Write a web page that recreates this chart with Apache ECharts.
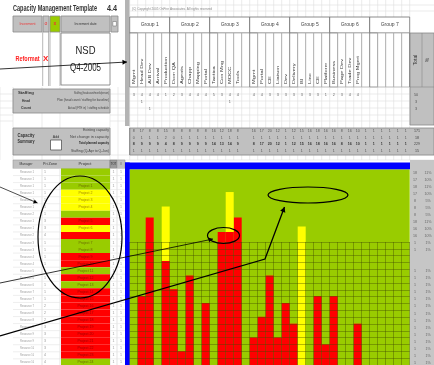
<!DOCTYPE html>
<html>
<head>
<meta charset="utf-8">
<script src="https://cdn.jsdelivr.net/npm/echarts@6/dist/echarts.min.js"></script>
<style>
html, body { margin: 0; padding: 0; background: #fff; }
#c { width: 434px; height: 365px; }
</style>
</head>
<body>
<div id="c"></div>
<script>
// ---- Capacity template content ----
const groups = ['Group 1', 'Group 2', 'Group 3', 'Group 4', 'Group 5', 'Group 6', 'Group 7'];
const columns = [
  'Mgmt', 'Head Dev', 'A/B Dev', 'Arrival', 'Production',
  'Dom QA', 'Agents', 'Chapp', 'Mapping', 'Portal',
  'Tactica', 'Con Mng', 'MOCC', 'Tools', '',
  'Mgmt', 'Portal', 'CE', 'Liaison', 'Dev',
  'Delivery', 'BI', 'Lino', 'CE', 'Platform',
  'Business', 'Page Dev', 'Trade Dev', 'Prog Mgmt', '',
  '', '', '', '', ''
];
// Committed load per resource column (hours band units)
const committed = [0, 10, 21.4, 0, 15.1, 11, 2, 13, 0, 9, 0, 19.3, 19.3, 21.4, 0, 4, 7, 13, 4, 9, 6, 0, 0, 10, 3, 10, 0, 0, 6, 0, 0, 0, 0, 0, 0];
// Tentative load stacked on top of committed
const tentative = [0, 0, 0, 0, 7.9, 0, 0, 0, 0, 0, 0, 0, 5.8, 0, 0, 0, 0, 0, 0, 0, 0, 20.1, 0, 0, 0, 0, 0, 0, 0, 0, 0, 0, 0, 0, 0];

const staffHead   = ['3','4','4','4','1','2','3','4','4','4','5','3','4','4','','4','4','3','3','3','3','3','3','3','1','2','3','4','4','','','','','',''];
const staffPlan   = ['','1','','','','','','','','','','','1','','','','','','','','','','','','','','','','','','','','','',''];
const staffActual = ['','','1','','','','','','','','','','','','','','','','','','','','','','','','','','','','','','','',''];
const staffTotals = ['50', '3', '3'];

const capExisting = ['8','17','8','8','15','8','8','8','8','8','16','12','18','8','','16','17','20','12','1','12','15','16','18','16','16','8','16','10','1','1','1','1','1','1'];
const capChange   = ['0','1','1','1','2','0','1','1','1','1','1','1','1','1','','1','1','1','1','1','1','1','1','1','1','1','1','1','1','1','1','1','1','1','1'];
const capTotal    = ['8','9','9','9','4','8','9','9','9','9','14','13','14','9','','8','17','20','12','1','12','15','16','18','16','16','8','16','10','1','1','1','1','1','1'];
const capStaff    = ['1','1','1','1','1','1','1','1','1','1','1','1','1','1','','1','1','1','1','1','1','1','1','1','1','1','1','1','1','1','1','1','1','1','1'];
const capTotals   = ['171', '18', '229', '15'];

const managers = ['Resource 1','Resource 1','Resource 1','Resource 1','Resource 1','Resource 1','Resource 2','Resource 1','Resource 1','Resource 2',
  'Resource 3','Resource 3','Resource 4','Resource 4','Resource 5','Resource 6','Resource 6','Resource 7','Resource 7','Resource 7',
  'Resource 8','Resource 8','Resource 9','Resource 9','Resource 9','Resource 10','Resource 10','Resource 10'];
const priZone = ['1','1','1','1','1','1','1','3','3','4','1','1','1','1','1','1','1','1','1','2','2','2','3','3','3','3','4','4'];
const projStatus = ['g','g','g','y','y','y','g','r','y','r','g','g','r','r','g','r','g','r','r','r','r','r','r','r','r','r','r','g'];
const projects = ['','','Project 1','Project 2','Project 3','Project 4','','Project 5','Project 6','','Project 7','Project 8','Project 9','Project 10',
  'Project 11','Project 12','Project 13','Project 14','Project 15','Project 16','Project 17','Project 18','Project 19','Project 20',
  'Project 21','Project 22','Project 23','Project 24'];
const rowHours = ['18','17','18','17','8','8','8','18','16','16','1','1','','','1','1','1','1','1','1','1','1','1','1','1','1','1','1'];
const rowShare = ['11%','10%','11%','10%','5%','5%','5%','11%','10%','10%','1%','1%','','','1%','1%','1%','1%','1%','1%','1%','1%','1%','1%','1%','1%','1%','1%'];

// ---- layout constants ----
const X0 = 129.7, CW = 8, NC = columns.length;
const RED = '#ff0000', GREEN = '#99cc00', YELLOW = '#ffff00', BLUE = '#0000ff', GRAY = '#c0c0c0';
const statusColor = { g: GREEN, y: YELLOW, r: RED };

const mctx = document.createElement('canvas').getContext('2d');
const g = [];
function rect(x, y, w, h, fill, stroke, lw, z) {
  g.push({ type: 'rect', silent: true, z: z || 1, shape: { x, y, width: w, height: h },
    style: { fill: fill || 'none', stroke: stroke || null, lineWidth: lw || 1 } });
}
function line(x1, y1, x2, y2, stroke, lw, z) {
  g.push({ type: 'line', silent: true, z: z || 1, shape: { x1, y1, x2, y2 },
    style: { stroke, lineWidth: lw || 1 } });
}
function txt(s, x, y, o) {
  if (!s) return;
  o = o || {};
  const size = o.size || 5, weight = o.weight || 'normal';
  const font = weight + ' ' + size + 'px "Liberation Sans", Arial, sans-serif';
  let sx = o.sx || 1;
  if (o.w) { mctx.font = font; sx = o.w / mctx.measureText(s).width; }
  const al = o.align || 'center';
  g.push({ type: 'text', silent: true, x, y, rotation: o.rot || 0, scaleX: sx, scaleY: o.sy || 1, z: o.z || 5,
    style: { text: s, x: 0, y: 0, font, fill: o.color || '#333',
      align: al, verticalAlign: 'middle', textAlign: al, textVerticalAlign: 'middle' } });
}
function arrow(pts, lw, head, z) {
  g.push({ type: 'polyline', silent: true, z: z || 100, shape: { points: pts },
    style: { stroke: '#000', lineWidth: lw, fill: 'none' } });
  const [xa, ya] = pts[pts.length - 2], [xb, yb] = pts[pts.length - 1];
  const a = Math.atan2(yb - ya, xb - xa), hl = head, hw = head * 0.55;
  const p1 = [xb - hl * Math.cos(a) + hw * Math.sin(a), yb - hl * Math.sin(a) - hw * Math.cos(a)];
  const p2 = [xb - hl * Math.cos(a) - hw * Math.sin(a), yb - hl * Math.sin(a) + hw * Math.cos(a)];
  g.push({ type: 'polygon', silent: true, z: z || 100, shape: { points: [[xb, yb], p1, p2] }, style: { fill: '#000' } });
}
function ellipse(cx, cy, rx, ry, lw) {
  g.push({ type: 'ellipse', silent: true, z: 100, shape: { cx, cy, rx, ry },
    style: { fill: 'none', stroke: '#000', lineWidth: lw } });
}
const colX = k => X0 + k * CW;
const colMid = k => X0 + k * CW + CW / 2;

// ---- faint sheet grid ----
const FAINT = '#dedede';
for (let k = 0; k <= NC; k++) line(colX(k), 0, colX(k), 17, FAINT, 0.6);
[5, 11].forEach(y => line(X0, y, 434, y, FAINT, 0.6));
for (let k = 0; k <= NC; k++) line(colX(k), 87, colX(k), 160, FAINT, 0.6);
[94, 101, 108, 115, 121, 155, 160].forEach(y => line(110, y, 434, y, FAINT, 0.6));
[0, 13, 42, 60, 110, 118].forEach(x => line(x, 87, x, 160, FAINT, 0.6));
[94, 101, 108, 115, 121].forEach(y => line(0, y, 13, y, FAINT, 0.6));

// ---- title row ----
txt('Capacity Management Template', 13, 9, { size: 8.5, weight: 'bold', align: 'left', w: 84, color: '#333' });
txt('4.4', 107, 9, { size: 8.5, weight: 'bold', align: 'left', w: 10, color: '#333' });
txt('(C) Copyright 2005 OnFire Associates. All rights reserved', 132, 9, { size: 3.6, align: 'left', w: 80, color: '#888' });

// ---- control cells ----
rect(13, 16, 29, 16, GRAY, '#8a8a8a', 0.8);
txt('Increment', 27.5, 24, { size: 4, color: '#e33', w: 16 });
rect(43, 16, 6, 16, GRAY, '#8a8a8a', 0.8);
txt('o', 46, 24, { size: 5, color: '#e33' });
rect(50, 16, 10, 16, GREEN, '#8a8a8a', 0.8);
txt('x', 55, 24, { size: 5, color: '#e33', weight: 'bold' });
rect(61, 16, 49, 16, GRAY, '#8a8a8a', 0.8);
txt('Increment date', 85.5, 24, { size: 4, color: '#333', w: 22 });
rect(111, 16, 7, 16, GRAY, '#8a8a8a', 0.8);
rect(112.8, 21.5, 3.6, 4.5, '#fff', '#777', 0.6);

[42.7, 48.6, 50, 60].forEach(x => line(x, 32, x, 86, '#9a9a9a', 0.7));
txt('Reformat', 27.5, 58.5, { size: 8, weight: 'bold', color: '#ff2020', w: 24 });
txt('X', 45.7, 58.5, { size: 8, weight: 'bold', color: '#ff2020' });
rect(61, 33, 49, 52, '#fff', '#7a7a7a', 0.8);
txt('NSD', 85.5, 51, { size: 10.5, color: '#222', w: 20 });
txt('Q4-2005', 85.5, 68, { size: 10, color: '#222', w: 31 });

// vertical separator bar
rect(125, 0, 4.5, 126, '#b4b4b4', null, 0);

// ---- group header ----
groups.forEach((name, i) => {
  rect(colX(i * 5), 17, 40, 16, '#fff', '#6e6e6e', 0.8);
  txt(name, colX(i * 5) + 20, 25, { size: 5, color: '#444' });
});
for (let k = 0; k < NC; k++) {
  rect(colX(k), 33, CW, 54, '#fff', k % 5 === 0 ? '#6e6e6e' : '#a0a0a0', 0.7);
  txt(columns[k], colMid(k), 84, { size: 4.4, align: 'left', rot: Math.PI / 2, sx: 1.3, sy: 0.85, color: '#333' });
}
line(colX(NC), 33, colX(NC), 87, '#6e6e6e', 0.8);

// Total / % block
rect(410, 33, 24, 92, GRAY, '#888', 0.8);
line(422, 33, 422, 87, '#888', 0.6);
line(410, 87, 434, 87, '#888', 0.6);
txt('Total', 416, 60, { size: 5, rot: Math.PI / 2, color: '#333' });
txt('%', 428, 60, { size: 5, rot: Math.PI / 2, color: '#333' });
staffTotals.forEach((v, i) => txt(v, 416, 95 + i * 7, { size: 3.8, color: '#555' }));

// ---- staffing block ----
rect(13, 89, 97, 24, GRAY, '#888', 0.8);
['Staffing', 'Head', 'Count'].forEach((s, i) => txt(s, 26, 93 + i * 7.5, { size: 4.2, weight: 'bold', color: '#333', w: s.length * 2 }));
txt('Staffing (headcount/month/person)', 109, 93, { size: 3.4, align: 'right', color: '#444', w: 35 });
txt('Plan (head count / staffing for baseline)', 109, 100.5, { size: 3.4, align: 'right', color: '#444', w: 52 });
txt('Actual (FTE in) / staffing schedule', 109, 108, { size: 3.4, align: 'right', color: '#444', w: 41 });
for (let k = 0; k < NC; k++) {
  txt(staffHead[k], colMid(k), 95, { size: 3.8, color: '#666' });
  txt(staffPlan[k], colMid(k), 102, { size: 3.8, color: '#666' });
  txt(staffActual[k], colMid(k), 109, { size: 3.8, color: '#666' });
}

// ---- capacity summary ----
rect(13, 128, 97, 27, GRAY, '#888', 0.8);
rect(X0, 128, 434 - X0, 27, GRAY, '#888', 0.8);
txt('Capacity', 26, 135.5, { size: 4.5, weight: 'bold', color: '#333', w: 17 });
txt('Summary', 26, 141.5, { size: 4.5, weight: 'bold', color: '#333', w: 17 });
txt('Add', 56, 137, { size: 3.6, color: '#333' });
rect(50.5, 140, 11, 10, '#fff', '#555', 0.8);
txt('Existing capacity', 109, 130.5, { size: 3.4, align: 'right', color: '#444', w: 26 });
txt('Net change in capacity', 109, 137, { size: 3.4, align: 'right', color: '#444', w: 39 });
txt('Total planned capacity', 109, 143.5, { size: 3.4, weight: 'bold', align: 'right', color: '#222', w: 30 });
txt('Staffing (Q-Apr to Q-Jun)', 109, 151, { size: 3.4, align: 'right', color: '#444', w: 38 });
line(X0, 128, X0, 155, '#888', 0.8);
for (let k = 0; k < NC; k++) {
  txt(capExisting[k], colMid(k), 131, { size: 3.6, color: '#555' });
  txt(capChange[k], colMid(k), 137.5, { size: 3.6, color: '#555' });
  txt(capTotal[k], colMid(k), 144, { size: 3.6, color: '#333', weight: 'bold' });
  txt(capStaff[k], colMid(k), 151, { size: 3.6, color: '#555' });
}
capTotals.forEach((v, i) => txt(v, 417, 131 + i * 6.6, { size: 3.6, color: '#444' }));

// ---- project table ----
const RY0 = 168.5, RH = 7.05;
rect(13, 160, 97, 8.5, GRAY, '#999', 0.6);
rect(110, 160, 7, 8.5, '#9a9a9a', '#777', 0.6);
rect(117, 160, 8, 8.5, GRAY, '#999', 0.6);
txt('Manager', 26, 164.3, { size: 4, color: '#333', w: 13 });
txt('Pri Zone', 50, 164.3, { size: 4, color: '#333', w: 14 });
txt('Project', 85, 164.3, { size: 4, color: '#333', w: 13 });
txt('TOT', 113.5, 164.3, { size: 3.4, color: '#222', w: 5.5 });
txt('#', 121, 164.3, { size: 3.6, color: '#333' });
[42, 60, 110, 117].forEach(x => line(x, 168.5, x, 365, '#d2d2d2', 0.6));
managers.forEach((m, i) => {
  const y = RY0 + i * RH;
  line(13, y, 61, y, '#e2e2e2', 0.6);
  line(110, y, 125, y, '#e2e2e2', 0.6);
  rect(61, y, 49, RH, statusColor[projStatus[i]], null, 0, 2);
  txt(m, 34, y + RH / 2, { size: 3.6, align: 'right', color: '#9a9a9a', w: 14 });
  txt(priZone[i], 45, y + RH / 2, { size: 3.6, color: '#9a9a9a' });
  txt(projects[i], 85.5, y + RH / 2, { size: 3.6, color: 'rgba(60,0,0,0.5)', z: 6 });
  txt('1', 113.5, y + RH / 2, { size: 3.6, color: '#9a9a9a' });
  txt('1', 121, y + RH / 2, { size: 3.6, color: '#9a9a9a' });
});

// right-hand totals column
rect(410, 160, 24, 205, '#c6c6c6', null, 0);
managers.forEach((m, i) => {
  const y = RY0 + 4 + i * RH;
  txt(rowHours[i], 415, y, { size: 3.6, color: '#666' });
  txt(rowShare[i], 428, y, { size: 3.6, color: '#666' });
});

// blue frame around the load chart
rect(125, 162.5, 285, 6.8, BLUE, null, 0, 3);
rect(125, 162.5, 4.7, 203, BLUE, null, 0, 3);

// ---- annotation callouts ----
arrow([[0, 69], [127, 62]], 0.8, 4.5);
arrow([[0, 187], [37.5, 203]], 0.7, 4);
arrow([[0, 283], [213, 239]], 0.8, 4.5);
arrow([[0, 336], [265, 259], [284.5, 207]], 1.3, 5);
ellipse(80, 237, 42, 61, 1.2);
ellipse(223.5, 235.5, 16, 8, 1.2);
ellipse(308, 195, 40, 8, 1.2);

// ---- chart ----
const chart = echarts.init(document.getElementById('c'), null, { renderer: 'canvas' });
const gridLine = { show: true, interval: 0, lineStyle: { color: 'rgba(60,70,0,0.38)', width: 1 } };
chart.setOption({
  animation: false,
  backgroundColor: '#ffffff',
  grid: [
    { left: X0, top: 169.3, width: CW * NC, height: 198.7, show: true, backgroundColor: GREEN, borderWidth: 0 },
    { left: X0, top: 242, width: CW * NC, height: 126, show: false }
  ],
  xAxis: [
    { type: 'category', gridIndex: 0, data: columns, show: false },
    { type: 'category', gridIndex: 1, data: columns, z: 10,
      axisLine: { show: false }, axisTick: { show: false }, axisLabel: { show: false }, splitLine: gridLine }
  ],
  yAxis: [
    { type: 'value', gridIndex: 0, min: 0, max: 28.4, show: false },
    { type: 'value', gridIndex: 1, min: 0, max: 18, interval: 1, z: 10,
      axisLine: { show: false }, axisTick: { show: false }, axisLabel: { show: false }, splitLine: gridLine }
  ],
  series: [
    { type: 'bar', name: 'Committed', xAxisIndex: 0, yAxisIndex: 0, stack: 'load', data: committed,
      barWidth: '100%', itemStyle: { color: RED } },
    { type: 'bar', name: 'Tentative', xAxisIndex: 0, yAxisIndex: 0, stack: 'load', data: tentative,
      barWidth: '100%', itemStyle: { color: YELLOW } }
  ],
  graphic: g
});
</script>
</body>
</html>
